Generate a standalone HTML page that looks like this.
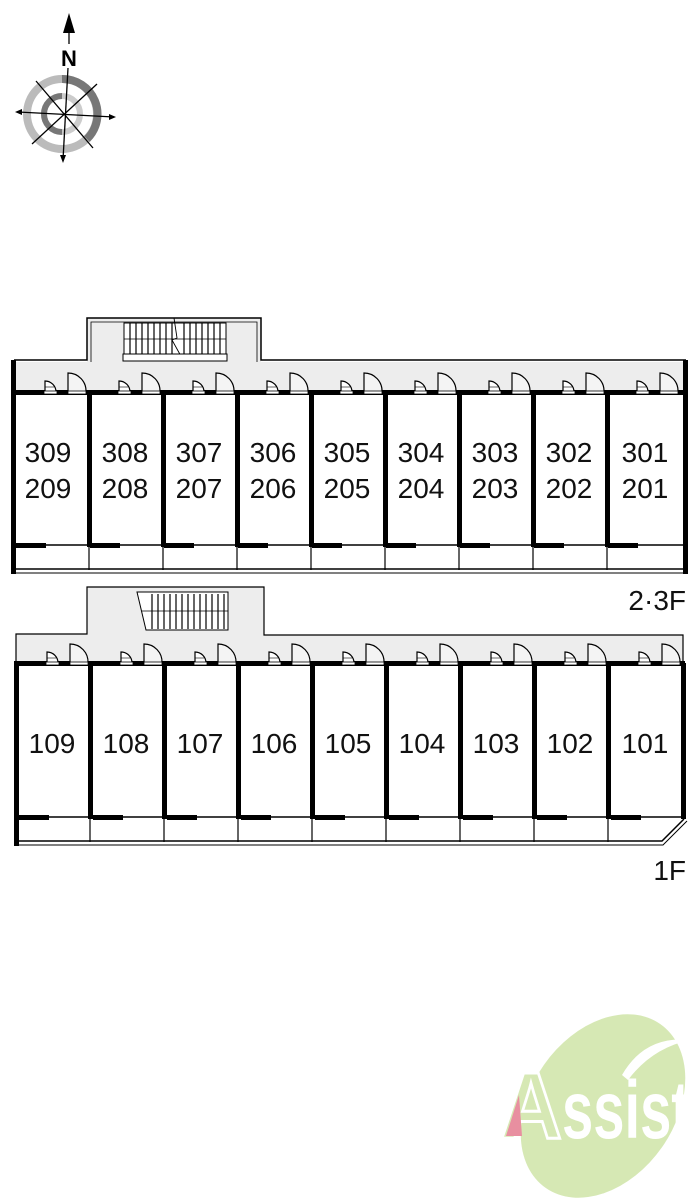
<!DOCTYPE html>
<html><head><meta charset="utf-8"><style>
html,body{margin:0;padding:0;background:#fff;}
svg{display:block;}
text{font-family:"Liberation Sans",sans-serif;}
</style></head><body>
<svg width="700" height="1201" viewBox="0 0 700 1201" xmlns="http://www.w3.org/2000/svg">
<defs>
<g id="doors" fill="#fff" stroke="#000" stroke-width="1.2">
  <path d="M31 0 V-11 A11 11 0 0 1 42 0 Z" fill="#fff"/>
  <line x1="31" y1="-5" x2="40" y2="-5" stroke-width="0.6"/>
  <path d="M54 0 V-19 A18 18 0 0 1 72 0" fill="#f4f4f4"/>
  <rect x="30" y="-1" width="13" height="3" fill="#fff" stroke-width="0.8"/>
  <rect x="54" y="-1" width="18" height="3" fill="#fff" stroke-width="0.8"/>
</g>
</defs>

<!-- compass -->
<g>
  <circle cx="62" cy="114" r="35" fill="none" stroke="#bbb" stroke-width="8"/>
  <path d="M62 79 A35 35 0 0 1 87 139" fill="none" stroke="#777" stroke-width="8"/>
  <circle cx="62" cy="114" r="18" fill="none" stroke="#ccc" stroke-width="6"/>
  <path d="M62 96 A18 18 0 0 0 62 132" fill="none" stroke="#777" stroke-width="6"/>
  <g stroke="#000" stroke-width="1.3">
    <line x1="18" y1="112" x2="114" y2="117"/>
    <line x1="68" y1="68" x2="63" y2="160"/>
    <line x1="36" y1="81" x2="93" y2="148"/>
    <line x1="97" y1="84" x2="32" y2="144"/>
    <line x1="69" y1="25" x2="69" y2="44"/>
  </g>
  <polygon points="69,13 63,33 75,33" fill="#000"/>
  <polygon points="15,112 22,109 22,115" fill="#000"/>
  <polygon points="116,117 109,114 109,120" fill="#000"/>
  <polygon points="63,163 60,155 66,155" fill="#000"/>
  <text x="69" y="66" font-family="Liberation Serif,serif" font-weight="bold" font-size="22" text-anchor="middle">N</text>
</g>

<!-- ===== upper block ===== -->
<g>
  <path d="M14 362 H87 V318 H261 V362 H686 V392 H14 Z" fill="#ededed"/>
  <path d="M14 360 H87 V318 H261 V360 H686" fill="none" stroke="#000" stroke-width="1.5"/>
  <path d="M91 362 V322 H257 V362" fill="none" stroke="#000" stroke-width="0.8"/>
  <rect x="124" y="323" width="102" height="31" fill="#fff" stroke="#000" stroke-width="1"/>
  <g stroke="#000" stroke-width="1.2">
    <line x1="130" y1="323" x2="130" y2="354"/><line x1="136" y1="323" x2="136" y2="354"/><line x1="142" y1="323" x2="142" y2="354"/><line x1="148" y1="323" x2="148" y2="354"/><line x1="154" y1="323" x2="154" y2="354"/><line x1="160" y1="323" x2="160" y2="354"/><line x1="166" y1="323" x2="166" y2="354"/><line x1="172" y1="323" x2="172" y2="354"/><line x1="184" y1="323" x2="184" y2="354"/><line x1="190" y1="323" x2="190" y2="354"/><line x1="196" y1="323" x2="196" y2="354"/><line x1="202" y1="323" x2="202" y2="354"/><line x1="208" y1="323" x2="208" y2="354"/><line x1="214" y1="323" x2="214" y2="354"/><line x1="220" y1="323" x2="220" y2="354"/>
    <line x1="124" y1="339" x2="226" y2="339" stroke-width="0.8"/>
    <path d="M174 318 L177 338 L172 340 L182 358" fill="none" stroke-width="0.9"/>
  </g>
  <rect x="123" y="354" width="104" height="7" fill="#fff" stroke="#000" stroke-width="1"/>
  <rect x="14" y="392" width="670" height="178" fill="#fff"/>
  <rect x="12" y="390" width="674" height="5" fill="#000"/>
  <line x1="14" y1="545" x2="684" y2="545" stroke="#000" stroke-width="1.5"/>
  <line x1="14" y1="569" x2="686" y2="569" stroke="#000" stroke-width="1.5"/>
  <line x1="14" y1="573" x2="686" y2="573" stroke="#000" stroke-width="1"/>
  <rect x="11" y="360" width="5" height="214" fill="#000"/>
  <rect x="683" y="360" width="5" height="214" fill="#000"/>
  <g fill="#000">
    <rect x="87" y="392" width="5" height="155"/><rect x="161" y="392" width="5" height="155"/><rect x="235" y="392" width="5" height="155"/><rect x="309" y="392" width="5" height="155"/><rect x="383" y="392" width="5" height="155"/><rect x="457" y="392" width="5" height="155"/><rect x="531" y="392" width="5" height="155"/><rect x="605" y="392" width="5" height="155"/>
    <rect x="16" y="543" width="30" height="5"/><rect x="90" y="543" width="30" height="5"/><rect x="164" y="543" width="30" height="5"/><rect x="238" y="543" width="30" height="5"/><rect x="312" y="543" width="30" height="5"/><rect x="386" y="543" width="30" height="5"/><rect x="460" y="543" width="30" height="5"/><rect x="534" y="543" width="30" height="5"/><rect x="608" y="543" width="30" height="5"/>
  </g>
  <g stroke="#000" stroke-width="1.2">
    <line x1="89" y1="547" x2="89" y2="570"/><line x1="163" y1="547" x2="163" y2="570"/><line x1="237" y1="547" x2="237" y2="570"/><line x1="311" y1="547" x2="311" y2="570"/><line x1="385" y1="547" x2="385" y2="570"/><line x1="459" y1="547" x2="459" y2="570"/><line x1="533" y1="547" x2="533" y2="570"/><line x1="607" y1="547" x2="607" y2="570"/>
  </g>
  <use href="#doors" x="14" y="392"/><use href="#doors" x="88" y="392"/><use href="#doors" x="162" y="392"/><use href="#doors" x="236" y="392"/><use href="#doors" x="310" y="392"/><use href="#doors" x="384" y="392"/><use href="#doors" x="458" y="392"/><use href="#doors" x="532" y="392"/><use href="#doors" x="606" y="392"/>
  <g font-size="28" text-anchor="middle" fill="#111">
    <text x="48" y="462">309</text><text x="48" y="498">209</text>
    <text x="125" y="462">308</text><text x="125" y="498">208</text>
    <text x="199" y="462">307</text><text x="199" y="498">207</text>
    <text x="273" y="462">306</text><text x="273" y="498">206</text>
    <text x="347" y="462">305</text><text x="347" y="498">205</text>
    <text x="421" y="462">304</text><text x="421" y="498">204</text>
    <text x="495" y="462">303</text><text x="495" y="498">203</text>
    <text x="569" y="462">302</text><text x="569" y="498">202</text>
    <text x="645" y="462">301</text><text x="645" y="498">201</text>
  </g>
  <text x="686" y="610" font-size="28" text-anchor="end" fill="#111">2·3F</text>
</g>

<!-- ===== lower block ===== -->
<g>
  <path d="M16 634 H87 V587 H264 V635 H683 V663 H16 Z" fill="#ededed"/>
  <path d="M16 663 V634 H87 V587 H264 V635 H683 V663" fill="none" stroke="#000" stroke-width="1.2"/>
  <polygon points="137,592 228,592 228,630 146,630" fill="#fff" stroke="#000" stroke-width="1"/>
  <g stroke="#000" stroke-width="1.2">
    <line x1="152" y1="594" x2="152" y2="629"/><line x1="158" y1="594" x2="158" y2="629"/><line x1="164" y1="594" x2="164" y2="629"/><line x1="170" y1="594" x2="170" y2="629"/><line x1="176" y1="594" x2="176" y2="629"/><line x1="182" y1="594" x2="182" y2="629"/><line x1="188" y1="594" x2="188" y2="629"/><line x1="194" y1="594" x2="194" y2="629"/><line x1="200" y1="594" x2="200" y2="629"/><line x1="206" y1="594" x2="206" y2="629"/><line x1="212" y1="594" x2="212" y2="629"/><line x1="218" y1="594" x2="218" y2="629"/><line x1="224" y1="594" x2="224" y2="629"/>
    <line x1="142" y1="611" x2="228" y2="611" stroke-width="0.8"/>
  </g>
  <rect x="16" y="663" width="667" height="180" fill="#fff"/>
  <rect x="14" y="661" width="671" height="5" fill="#000"/>
  <line x1="16" y1="817" x2="683" y2="817" stroke="#000" stroke-width="1.5"/>
  <path d="M16 841 H662 L684 819" fill="none" stroke="#000" stroke-width="1.5"/>
  <path d="M16 845 H663 L687 821" fill="none" stroke="#000" stroke-width="1"/>
  <rect x="14" y="663" width="5" height="183" fill="#000"/>
  <rect x="681" y="663" width="5" height="156" fill="#000"/>
  <g fill="#000">
    <rect x="88" y="663" width="5" height="156"/><rect x="162" y="663" width="5" height="156"/><rect x="236" y="663" width="5" height="156"/><rect x="310" y="663" width="5" height="156"/><rect x="384" y="663" width="5" height="156"/><rect x="458" y="663" width="5" height="156"/><rect x="532" y="663" width="5" height="156"/><rect x="606" y="663" width="5" height="156"/>
    <rect x="19" y="815" width="30" height="5"/><rect x="93" y="815" width="30" height="5"/><rect x="167" y="815" width="30" height="5"/><rect x="241" y="815" width="30" height="5"/><rect x="315" y="815" width="30" height="5"/><rect x="389" y="815" width="30" height="5"/><rect x="463" y="815" width="30" height="5"/><rect x="537" y="815" width="30" height="5"/><rect x="611" y="815" width="30" height="5"/>
  </g>
  <g stroke="#000" stroke-width="1.2">
    <line x1="90" y1="819" x2="90" y2="842"/><line x1="164" y1="819" x2="164" y2="842"/><line x1="238" y1="819" x2="238" y2="842"/><line x1="312" y1="819" x2="312" y2="842"/><line x1="386" y1="819" x2="386" y2="842"/><line x1="460" y1="819" x2="460" y2="842"/><line x1="534" y1="819" x2="534" y2="842"/><line x1="608" y1="819" x2="608" y2="842"/>
  </g>
  <use href="#doors" x="16" y="663"/><use href="#doors" x="90" y="663"/><use href="#doors" x="164" y="663"/><use href="#doors" x="238" y="663"/><use href="#doors" x="312" y="663"/><use href="#doors" x="386" y="663"/><use href="#doors" x="460" y="663"/><use href="#doors" x="534" y="663"/><use href="#doors" x="608" y="663"/>
  <g font-size="28" text-anchor="middle" fill="#111">
    <text x="52" y="753">109</text><text x="126" y="753">108</text><text x="200" y="753">107</text><text x="274" y="753">106</text><text x="348" y="753">105</text><text x="422" y="753">104</text><text x="496" y="753">103</text><text x="570" y="753">102</text><text x="645" y="753">101</text>
  </g>
  <text x="686" y="880" font-size="28" text-anchor="end" fill="#111">1F</text>
</g>

<!-- logo -->
<g>
  <ellipse cx="603" cy="1106" rx="100" ry="72" transform="rotate(-55 603 1106)" fill="#d6e8b4"/>
  <path d="M622 1075 Q645 1035 690 1040 Q652 1048 628 1080 Z" fill="#fff"/>
  <text x="500" y="1138" font-size="95" font-weight="bold" fill="#d6e8b4" stroke="#fff" stroke-width="3" textLength="62" lengthAdjust="spacingAndGlyphs">A</text>
  <polygon points="506,1136 519,1095 522,1136" fill="#e88fa0"/>
  <text x="562" y="1138" font-size="82" font-weight="bold" fill="#fff" textLength="128" lengthAdjust="spacingAndGlyphs">ssist</text>
</g>
</svg>
</body></html>
